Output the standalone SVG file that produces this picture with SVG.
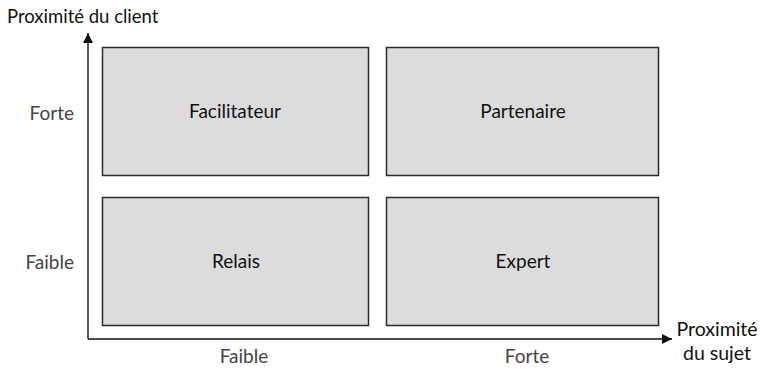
<svg xmlns="http://www.w3.org/2000/svg" width="761" height="369" viewBox="0 0 761 369">
<defs>
<style>
.box{fill:#dcdcdd;stroke:#2a2a2a;stroke-width:1.5}
.lbl{font-family:Lato,"Open Sans","Liberation Sans",sans-serif;font-size:19px;fill:#111;text-anchor:middle}
.ax{font-family:Lato,"Open Sans","Liberation Sans",sans-serif;font-size:19px;fill:#444}
.ttl{font-family:Lato,"Open Sans","Liberation Sans",sans-serif;font-size:18.5px;fill:#111}
.axl{stroke:#111;stroke-width:1.4;fill:none}
</style>
<marker id="arr" viewBox="0 0 10 10" refX="10" refY="5" markerWidth="10" markerHeight="10" markerUnits="userSpaceOnUse" orient="auto">
<path d="M0,0 L10,5 L0,10 Z" fill="#111"/>
</marker>
</defs>
<rect width="761" height="369" fill="#fff"/>
<g id="connectors">
<path class="axl" d="M88,339 V33" marker-end="url(#arr)"/>
<path class="axl" d="M88,339 H672" marker-end="url(#arr)"/>
</g>
<g id="facilitateur"><rect class="box" x="102.5" y="47.5" width="266" height="128"/><text class="lbl" x="235" y="118">Facilitateur</text></g>
<g id="partenaire"><rect class="box" x="386.5" y="47.5" width="272" height="128"/><text class="lbl" x="523" y="118">Partenaire</text></g>
<g id="relais"><rect class="box" x="102.5" y="197.5" width="266" height="128"/><text class="lbl" x="236" y="268">Relais</text></g>
<g id="expert"><rect class="box" x="386.5" y="197.5" width="272" height="128"/><text class="lbl" x="523" y="268">Expert</text></g>
<text class="ttl" x="7" y="23">Proximité du client</text>
<text class="ax" x="74" y="120" text-anchor="end">Forte</text>
<text class="ax" x="74" y="269" text-anchor="end">Faible</text>
<text class="ax" x="244" y="363" text-anchor="middle">Faible</text>
<text class="ax" x="527" y="363" text-anchor="middle">Forte</text>
<text class="ttl" x="717" y="336" text-anchor="middle" style="font-size:19.5px">Proximité</text>
<text class="ttl" x="717" y="360" text-anchor="middle" style="font-size:19.5px">du sujet</text>
</svg>
